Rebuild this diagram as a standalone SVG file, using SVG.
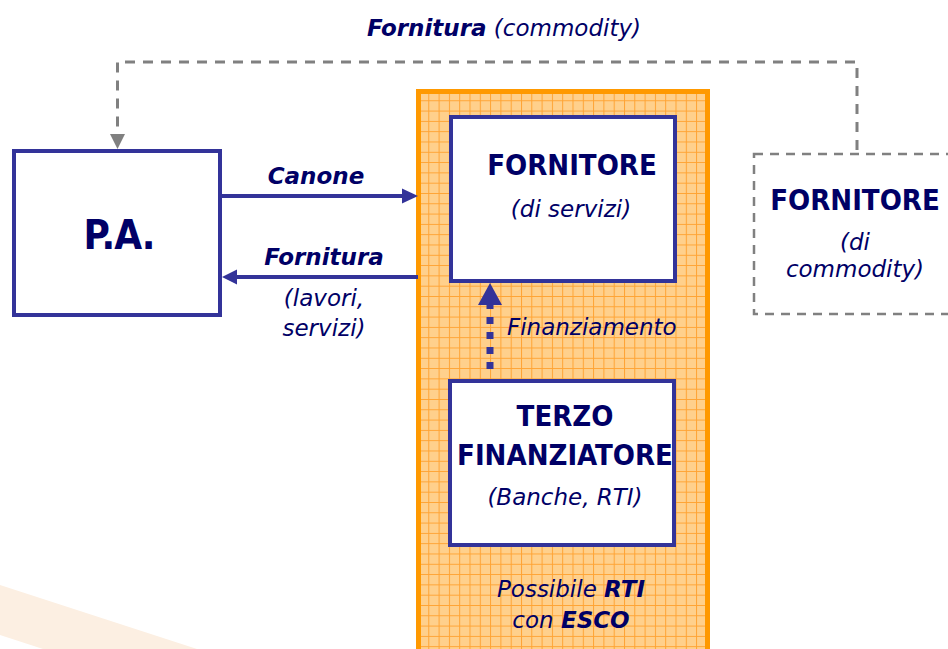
<svg xmlns="http://www.w3.org/2000/svg" width="948" height="649" viewBox="0 0 948 649">
<style>
.bx{fill:#fff;stroke:#333399;stroke-width:4}
.b{font-family:"DejaVu Sans Condensed","DejaVu Sans",sans-serif;font-weight:bold;fill:#000066;text-anchor:middle}
.i{font-family:"DejaVu Sans","Liberation Sans",sans-serif;font-style:italic;fill:#000066;text-anchor:middle;font-size:23px}
.st{text-anchor:start}
.bi{font-weight:bold}
.ln{stroke:#333399;stroke-width:4;fill:none}
.gd{stroke:#808080;stroke-width:3;fill:none;stroke-dasharray:10 8}
.hd{fill:#333399}
</style>
<defs>
<pattern id="grid" patternUnits="userSpaceOnUse" x="418" y="90" width="10.3" height="10.3">
<rect width="10.3" height="10.3" fill="#FFD08C"/>
<path d="M0,0.5H10.3M0.5,0V10.3" stroke="#FFA333" stroke-width="1"/>
</pattern>
</defs>
<rect width="948" height="649" fill="#fff"/>
<polygon points="0,585 197,649 43,649 0,635" fill="#FCEFE2"/>
<g id="esco">
<rect x="418.5" y="91.5" width="289" height="600" fill="url(#grid)" stroke="#FF9900" stroke-width="5"/>
<text class="i" x="571" y="597">Possibile <tspan class="bi">RTI</tspan></text>
<text class="i" x="571" y="628">con <tspan class="bi">ESCO</tspan></text>
</g>
<g id="pa">
<rect class="bx" x="14" y="151" width="206" height="164"/>
<text class="b" x="119" y="249" font-size="40" letter-spacing="-1">P.A.</text>
</g>
<g id="fornitore-servizi">
<rect class="bx" x="451" y="117" width="224" height="164"/>
<text class="b" x="572" y="175" font-size="29">FORNITORE</text>
<text class="i" x="571" y="217">(di servizi)</text>
</g>
<g id="terzo">
<rect class="bx" x="450" y="381" width="224" height="164"/>
<text class="b" x="565" y="426" font-size="29">TERZO</text>
<text class="b" x="565" y="465" font-size="29">FINANZIATORE</text>
<text class="i" x="565" y="505" font-size="21">(Banche, RTI)</text>
</g>
<g id="fornitore-commodity">
<rect x="754" y="154" width="210" height="160" fill="#fff" stroke="#808080" stroke-width="2.5" stroke-dasharray="9 7"/>
<text class="b" x="855" y="210" font-size="29">FORNITORE</text>
<text class="i" x="855" y="250">(di</text>
<text class="i" x="855" y="277">commodity)</text>
</g>
<g id="connectors">
<path class="gd" d="M857,150V62H117.5V134"/>
<polygon points="110,134 125,134 117.5,149" fill="#808080"/>
<text class="i" x="504" y="36"><tspan class="bi">Fornitura</tspan> (commodity)</text>
<path class="ln" d="M222,196H404"/>
<polygon class="hd" points="402,188.5 418,196 402,203.5"/>
<text class="i bi" x="316" y="184">Canone</text>
<path class="ln" d="M418,277H236"/>
<polygon class="hd" points="237,269.5 222,277 237,284.5"/>
<text class="i bi" x="324" y="265">Fornitura</text>
<text class="i" x="324" y="306">(lavori,</text>
<text class="i" x="324" y="336">servizi)</text>
<path d="M490,369V303" stroke="#333399" stroke-width="7" stroke-dasharray="7 8" fill="none"/>
<polygon class="hd" points="478,305 502,305 490,283"/>
<text class="i st" x="507" y="335">Finanziamento</text>
</g>
</svg>
